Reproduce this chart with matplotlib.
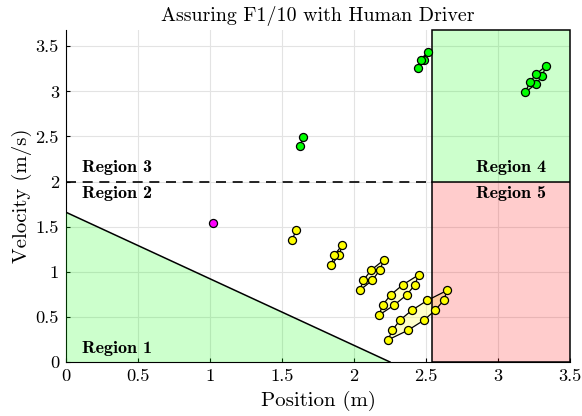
import matplotlib
matplotlib.use("Agg")
import matplotlib.pyplot as plt
from matplotlib.patches import Polygon

plt.rcParams['font.family'] = ['cmr10', 'DejaVu Serif']
plt.rcParams['axes.formatter.use_mathtext'] = True

# ---- data ----
ticks = [0, 0.5, 1, 1.5, 2, 2.5, 3, 3.5]
tick_labels = ["0", "0.5", "1", "1.5", "2", "2.5", "3", "3.5"]

region1_x = [0, 0, 2.25]
region1_y = [0, 1.66, 0]
region_split_x = 2.54
region_split_v = 2.0
x_max = 3.5
y_max = 3.68

human_x = [1.02]
human_y = [1.54]

# yellow reach sets (vertices in polygon order)
y0_x = [1.570, 1.597]
y0_y = [1.35, 1.46]
y1_x = [1.840, 1.896, 1.920, 1.863]
y1_y = [1.070, 1.185, 1.300, 1.185]
y2_x = [2.040, 2.127, 2.180, 2.206, 2.120, 2.065]
y2_y = [0.795, 0.906, 1.020, 1.130, 1.020, 0.906]
y3_x = [2.174, 2.280, 2.365, 2.423, 2.449, 2.338, 2.254, 2.199]
y3_y = [0.520, 0.632, 0.743, 0.855, 0.966, 0.855, 0.743, 0.632]
y4_x = [2.236, 2.375, 2.486, 2.565, 2.622, 2.648, 2.509, 2.403, 2.319, 2.266]
y4_y = [0.245, 0.352, 0.464, 0.575, 0.683, 0.795, 0.683, 0.575, 0.464, 0.352]

# green reach sets
g1_x = [1.625, 1.648]
g1_y = [2.40, 2.49]
g2_x = [2.442, 2.488, 2.511, 2.465]
g2_y = [3.26, 3.35, 3.44, 3.35]
g3_x = [3.190, 3.262, 3.308, 3.331, 3.264, 3.220]
g3_y = [2.99, 3.08, 3.17, 3.28, 3.19, 3.10]

fig = plt.figure(figsize=(5.82, 4.16), dpi=100)
ax = fig.add_axes([0.1134, 0.1298, 0.866, 0.798])

ax.set_xlim(0, x_max)
ax.set_ylim(0, y_max)
ax.set_xticks(ticks)
ax.set_xticklabels(tick_labels)
ax.set_yticks(ticks)
ax.set_yticklabels(tick_labels)
ax.grid(True, color='#e3e3e3', lw=0.8)
ax.set_axisbelow(True)
for s in ['top', 'right']:
    ax.spines[s].set_visible(False)
ax.tick_params(direction='in', length=3, labelsize=13.3, pad=5)

# reach sets (drawn under regions)
def reach(xs, ys, face, fill=True):
    if fill and len(xs) > 2:
        ax.add_patch(Polygon(list(zip(xs, ys)), closed=True, facecolor=face,
                             alpha=0.2, edgecolor='none', zorder=2))
        ax.add_patch(Polygon(list(zip(xs, ys)), closed=True, facecolor='none',
                             edgecolor='black', lw=0.9, zorder=4))
    else:
        ax.plot(xs, ys, color='black', lw=0.9, zorder=4)
    ax.plot(xs, ys, 'o', ms=5.8, mfc=face, mec='black', mew=0.9, zorder=5)

# regions
ax.add_patch(Polygon(list(zip(region1_x, region1_y)), closed=True, facecolor=(0, 1, 0),
                     alpha=0.2, edgecolor='none', zorder=3))
ax.plot([region1_x[1], region1_x[2]], [region1_y[1], region1_y[2]], color='black', lw=1.1, zorder=4)
ax.add_patch(Polygon([(region_split_x, region_split_v), (x_max, region_split_v),
                      (x_max, y_max), (region_split_x, y_max)], closed=True,
                     facecolor=(0, 1, 0), alpha=0.2, edgecolor='none', zorder=3))
ax.add_patch(Polygon([(region_split_x, 0), (x_max, 0), (x_max, region_split_v),
                      (region_split_x, region_split_v)], closed=True,
                     facecolor=(1, 0, 0), alpha=0.2, edgecolor='none', zorder=3))
ax.add_patch(Polygon([(region_split_x, 0), (x_max, 0), (x_max, y_max),
                      (region_split_x, y_max)], closed=True, facecolor='none',
                     edgecolor='black', lw=1.1, zorder=4, clip_on=False))
ax.plot([region_split_x, x_max], [region_split_v, region_split_v], color='black', lw=1.1, zorder=4)
ax.plot([0, region_split_x], [region_split_v, region_split_v], color='black', lw=1.2,
        ls=(0, (6, 4)), zorder=4)

reach(y0_x, y0_y, '#ffff00', fill=False)
reach(y1_x, y1_y, '#ffff00')
reach(y2_x, y2_y, '#ffff00')
reach(y3_x, y3_y, '#ffff00')
reach(y4_x, y4_y, '#ffff00')
reach(g1_x, g1_y, '#00ff00', fill=False)
reach(g2_x, g2_y, '#00ff00')
reach(g3_x, g3_y, '#00ff00')
ax.plot(human_x, human_y, 'o', ms=5.8, mfc='#ff00ff', mec='black', mew=0.9, zorder=5)

bold = dict(family=['cmb10', 'DejaVu Serif'], fontsize=13, zorder=6)
ax.text(0.11, 2.16, 'Region 3', ha='left', va='center', **bold)
ax.text(0.11, 1.87, 'Region 2', ha='left', va='center', **bold)
ax.text(0.11, 0.15, 'Region 1', ha='left', va='center', **bold)
ax.text(2.85, 2.16, 'Region 4', ha='left', va='center', **bold)
ax.text(2.85, 1.87, 'Region 5', ha='left', va='center', **bold)

ax.set_title('Assuring F1/10 with Human Driver', fontsize=14.4, pad=6.5)
ax.set_xlabel('Position (m)', fontsize=15, labelpad=5)
ax.set_ylabel('Velocity (m/s)', fontsize=15, labelpad=2.5)

fig.savefig('out.png', dpi=100)
